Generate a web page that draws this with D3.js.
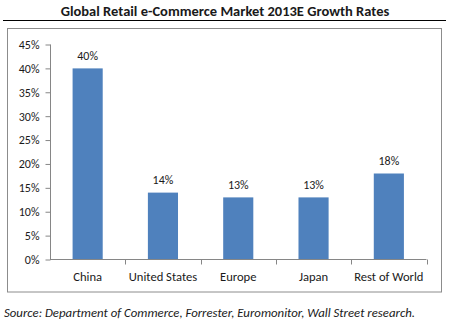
<!DOCTYPE html>
<html><head><meta charset="utf-8">
<script src="https://cdn.jsdelivr.net/npm/d3@7"></script>
<style>
html,body{margin:0;padding:0;background:#fff;}
svg{display:block;}
text{font-family:Carlito,Lato,"Open Sans",sans-serif;}
</style></head>
<body>
<svg id="c" width="449" height="324"></svg>
<script>
const categories = ["China","United States","Europe","Japan","Rest of World"];
const growth = [40,14,13,13,18];
const yTicks = [0,5,10,15,20,25,30,35,40,45];
const title = "Global Retail e-Commerce Market 2013E Growth Rates";
const source = "Source:  Department of Commerce, Forrester, Euromonitor, Wall Street research.";

const svg = d3.select("#c");
const x = d3.scaleBand().domain(categories).range([50,426.5]).paddingInner(0.6).paddingOuter(0.3);
const y = d3.scaleLinear().domain([0,45]).range([259.5,44.5]);

svg.append("text").attr("x",225).attr("y",16).attr("text-anchor","middle")
  .attr("font-size",14.5).attr("font-weight","bold").attr("fill","#1a1a1a").text(title);
svg.append("line").attr("x1",3).attr("x2",446).attr("y1",20.5).attr("y2",20.5).attr("stroke","#000").attr("stroke-width",1);
svg.append("rect").attr("x",7.5).attr("y",28.5).attr("width",434).attr("height",263.5)
  .attr("fill","#fff").attr("stroke","#8c8c8c").attr("stroke-width",1);

const g = svg.append("g");
g.selectAll("rect.bar").data(categories).enter().append("rect").attr("class","bar")
  .attr("x",d=>x(d)).attr("width",x.bandwidth())
  .attr("y",(d,i)=>y(growth[i])).attr("height",(d,i)=>y(0)-y(growth[i]))
  .attr("fill","#4f81bd");

const yAxis = d3.axisLeft(y).tickValues(yTicks).tickFormat(d=>d+"%").tickSize(5).tickPadding(6);
const ya = svg.append("g").attr("transform","translate(50.5,0)").call(yAxis);
ya.select(".domain").attr("stroke","#868686").attr("d","M0,44.5V259.5");
ya.selectAll(".tick line").attr("stroke","#868686");
ya.selectAll(".tick text").attr("font-size",12).attr("fill","#1a1a1a").attr("font-family","Carlito,Lato,'Open Sans',sans-serif");

const xa = svg.append("g").attr("transform","translate(0,259.5)");
xa.append("line").attr("x1",50).attr("x2",426.5).attr("stroke","#868686");
const step = x.step();
const bounds = categories.map((d,i)=>x(d)-x.paddingInner()*step/2 + step);
xa.selectAll("line.tk").data(bounds).enter().append("line").attr("class","tk")
  .attr("x1",d=>Math.round(d)+0.5).attr("x2",d=>Math.round(d)+0.5).attr("y1",0).attr("y2",5).attr("stroke","#868686");
xa.selectAll("text").data(categories).enter().append("text")
  .attr("x",d=>x(d)+x.bandwidth()/2).attr("y",21.5).attr("text-anchor","middle")
  .attr("font-size",12.6).attr("fill","#1a1a1a").text(d=>d);

g.selectAll("text.lbl").data(categories).enter().append("text").attr("class","lbl")
  .attr("x",d=>x(d)+x.bandwidth()/2).attr("y",(d,i)=>y(growth[i])-8.5)
  .attr("text-anchor","middle").attr("font-size",12).attr("fill","#1a1a1a")
  .text((d,i)=>growth[i]+"%");

svg.append("text").attr("x",4).attr("y",316.5).attr("font-size",12.8).attr("font-style","italic")
  .attr("fill","#1a1a1a").text(source);
</script>
</body></html>
